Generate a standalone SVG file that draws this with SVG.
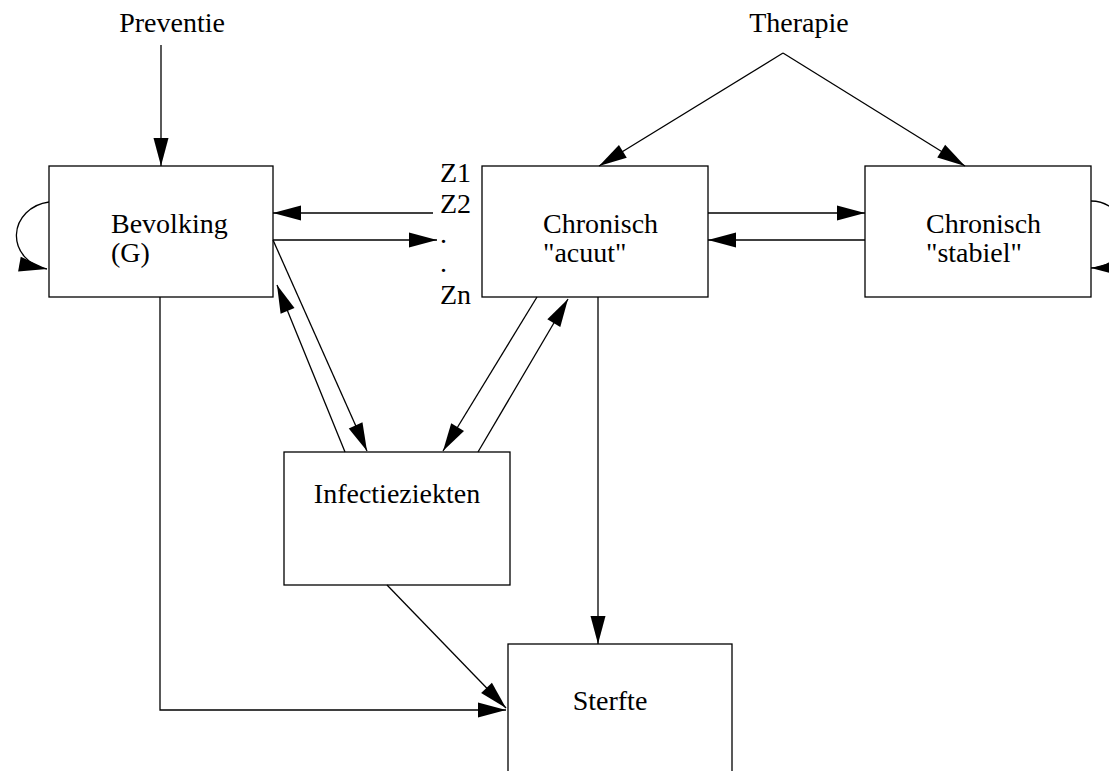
<svg xmlns="http://www.w3.org/2000/svg" width="1109" height="771" viewBox="0 0 1109 771">
<style>
.box{fill:#fff;stroke:#000;stroke-width:1.3}
.ln{fill:none;stroke:#000;stroke-width:1.3}
.arr{marker-end:url(#ah)}
text{font-family:"Liberation Serif","Times New Roman",serif;font-size:28px;fill:#000}
.mid{text-anchor:middle}
</style>
<defs>
<marker id="ah" markerUnits="userSpaceOnUse" markerWidth="28" markerHeight="15" refX="28" refY="7.5" orient="auto" overflow="visible">
<path d="M0,0 L28,7.5 L0,15 Z" fill="#000"/>
</marker>
</defs>
<rect width="1109" height="771" fill="#fff"/>
<g id="labels">
<text class="mid" x="172" y="32">Preventie</text>
<text class="mid" x="799" y="32">Therapie</text>
<text x="440" y="182">Z1</text>
<text x="440" y="213">Z2</text>
<text x="440" y="243">.</text>
<text x="440" y="272">.</text>
<text x="440" y="304">Zn</text>
</g>
<g id="bevolking">
<rect class="box" x="49" y="166" width="224" height="131"/>
<text x="111" y="233">Bevolking</text>
<text x="111" y="262">(G)</text>
</g>
<g id="acuut">
<rect class="box" x="482" y="166" width="226" height="131"/>
<text x="543" y="233">Chronisch</text>
<text x="543" y="262">"acuut"</text>
</g>
<g id="stabiel">
<rect class="box" x="865" y="166" width="226" height="131"/>
<text x="926" y="233">Chronisch</text>
<text x="926" y="262">"stabiel"</text>
</g>
<g id="infectie">
<rect class="box" x="284" y="452" width="226" height="133"/>
<text class="mid" x="397" y="503">Infectieziekten</text>
</g>
<g id="sterfte">
<rect class="box" x="508" y="644" width="224" height="140"/>
<text class="mid" x="610" y="710">Sterfte</text>
</g>
<g id="connectors">
<line class="ln arr" x1="161" y1="45" x2="161" y2="166"/>
<line class="ln arr" x1="783" y1="53" x2="599" y2="166"/>
<line class="ln arr" x1="783" y1="53" x2="965" y2="166"/>
<path class="ln arr" d="M49,202 A38,34 0 0 0 47,269"/>
<path class="ln arr" d="M1091,201 A34,33.5 0 0 1 1091,268"/>
<line class="ln arr" x1="433" y1="213" x2="273" y2="213"/>
<line class="ln arr" x1="273" y1="240" x2="437" y2="240"/>
<line class="ln arr" x1="708" y1="213" x2="865" y2="213"/>
<line class="ln arr" x1="865" y1="240" x2="708" y2="240"/>
<line class="ln arr" x1="273" y1="240" x2="367" y2="451"/>
<line class="ln arr" x1="345" y1="452" x2="277" y2="285"/>
<line class="ln arr" x1="537" y1="297" x2="443" y2="451"/>
<line class="ln arr" x1="478" y1="452" x2="568" y2="299"/>
<line class="ln arr" x1="598" y1="297" x2="598" y2="644"/>
<line class="ln arr" x1="387" y1="585" x2="506" y2="708"/>
<polyline class="ln arr" points="160,297 160,710 506,710"/>
</g>
</svg>
